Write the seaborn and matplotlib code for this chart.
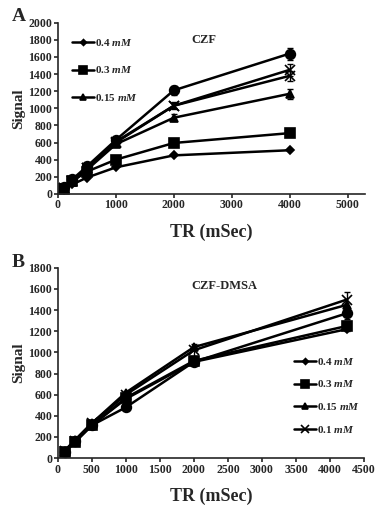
import numpy as np
import pandas as pd
import matplotlib
matplotlib.use('Agg')
import matplotlib.pyplot as plt
import seaborn as sns

sns.set_style('ticks')
plt.rcParams['font.family'] = ['Liberation Serif', 'DejaVu Serif']
plt.rcParams['font.weight'] = 'bold'
plt.rcParams['mathtext.fontset'] = 'custom'
plt.rcParams['mathtext.it'] = 'Liberation Serif:italic:bold'
plt.rcParams['mathtext.rm'] = 'Liberation Serif:bold'

# 패널 A (CZF)
tr_a = [100, 250, 500, 1000, 2000, 4000]
a_04 = [50, 110, 190, 310, 450, 510]
a_03 = [60, 150, 260, 400, 595, 710]
a_015 = [70, 140, 280, 580, 890, 1170]
a_x1 = [65, 150, 300, 610, 1030, 1450]
a_x2 = [65, 150, 300, 600, 1030, 1380]
a_circ = [80, 170, 320, 630, 1210, 1640]
a_err_015 = [0, 0, 0, 0, 40, 60]
a_err_x1 = [0, 0, 0, 0, 40, 70]
a_err_x2 = [0, 0, 0, 0, 30, 60]
a_err_circ = [0, 0, 0, 0, 50, 70]

# 패널 B (CZF-DMSA)
tr_b = [100, 250, 500, 1000, 2000, 4250]
b_04 = [60, 150, 310, 560, 910, 1220]
b_03 = [55, 150, 310, 570, 920, 1250]
b_015 = [70, 170, 330, 620, 1050, 1450]
b_01 = [65, 165, 330, 600, 1020, 1500]
b_circ = [60, 160, 310, 480, 910, 1370]
b_err_01 = [0, 0, 0, 30, 60, 70]
b_err_03 = [0, 0, 0, 0, 40, 50]
b_err_circ = [0, 0, 0, 0, 0, 50]

fig = plt.figure(figsize=(3.78, 5.17), dpi=100)
axA = fig.add_axes([0.153, 0.625, 0.813, 0.331])
axB = fig.add_axes([0.153, 0.114, 0.81, 0.368])

kw = dict(color='black', linewidth=1.8, markeredgecolor='black')


def draw(ax, x, y, marker, ms, label=None, err=None):
    if err is not None:
        ax.errorbar(x, y, yerr=err, fmt='none', ecolor='black', elinewidth=1, capsize=2.5)
    sns.lineplot(x=x, y=y, ax=ax, marker=marker, markersize=ms, label=label,
                 markeredgewidth=1.2, **kw)


# A
draw(axA, tr_a, a_04, 'D', 4, '0.4 $\\it{mM}$')
draw(axA, tr_a, a_03, 's', 7, '0.3 $\\it{mM}$')
draw(axA, tr_a, a_015, '^', 6, '0.15 $\\it{mM}$', a_err_015)
draw(axA, tr_a, a_x1, 'x', 7, None, a_err_x1)
draw(axA, tr_a, a_x2, 'x', 7, None, a_err_x2)
draw(axA, tr_a, a_circ, 'o', 7, None, a_err_circ)
axA.set_xlim(0, 5300)
axA.set_ylim(0, 2000)
axA.set_xticks(range(0, 5001, 1000))
axA.set_yticks(range(0, 2001, 200))
axA.text(2300, 1760, 'CZF', fontsize=9, fontweight='bold')
axA.legend(loc='upper left', bbox_to_anchor=(0.02, 0.96), frameon=False, fontsize=8,
           labelspacing=1.45, handlelength=2.0, handletextpad=0.1, borderaxespad=0.3,
           markerscale=0.75)

# B
draw(axB, tr_b, b_04, 'D', 4, '0.4 $\\it{mM}$')
draw(axB, tr_b, b_03, 's', 7, '0.3 $\\it{mM}$', b_err_03)
draw(axB, tr_b, b_015, '^', 6, '0.15 $\\it{mM}$')
draw(axB, tr_b, b_01, 'x', 7, '0.1 $\\it{mM}$', b_err_01)
draw(axB, tr_b, b_circ, 'o', 7, None, b_err_circ)
axB.set_xlim(0, 4500)
axB.set_ylim(0, 1800)
axB.set_xticks(range(0, 4501, 500))
axB.set_yticks(range(0, 1801, 200))
axB.text(1970, 1600, 'CZF-DMSA', fontsize=9, fontweight='bold')
axB.legend(loc='center right', bbox_to_anchor=(1.01, 0.33), frameon=False, fontsize=8,
           labelspacing=1.05, handlelength=2.0, handletextpad=0.1, borderaxespad=0.2,
           markerscale=0.75)

for ax in (axA, axB):
    sns.despine(ax=ax)
    ax.spines['left'].set_linewidth(1.2)
    ax.spines['bottom'].set_linewidth(1.2)
    ax.tick_params(axis='both', labelsize=8.5, width=1.2, length=3, pad=1)
    for lab in ax.get_xticklabels() + ax.get_yticklabels():
        lab.set_fontweight('bold')
    ax.set_ylabel('Signal', fontsize=11, fontweight='bold', labelpad=2)
    ax.set_xlabel('TR (mSec)', fontsize=13, fontweight='bold', labelpad=9)

fig.text(0.03, 0.968, 'A', fontsize=14, fontweight='bold', va='center')
fig.text(0.03, 0.492, 'B', fontsize=14, fontweight='bold', va='center')

fig.savefig('out.png', dpi=100)
